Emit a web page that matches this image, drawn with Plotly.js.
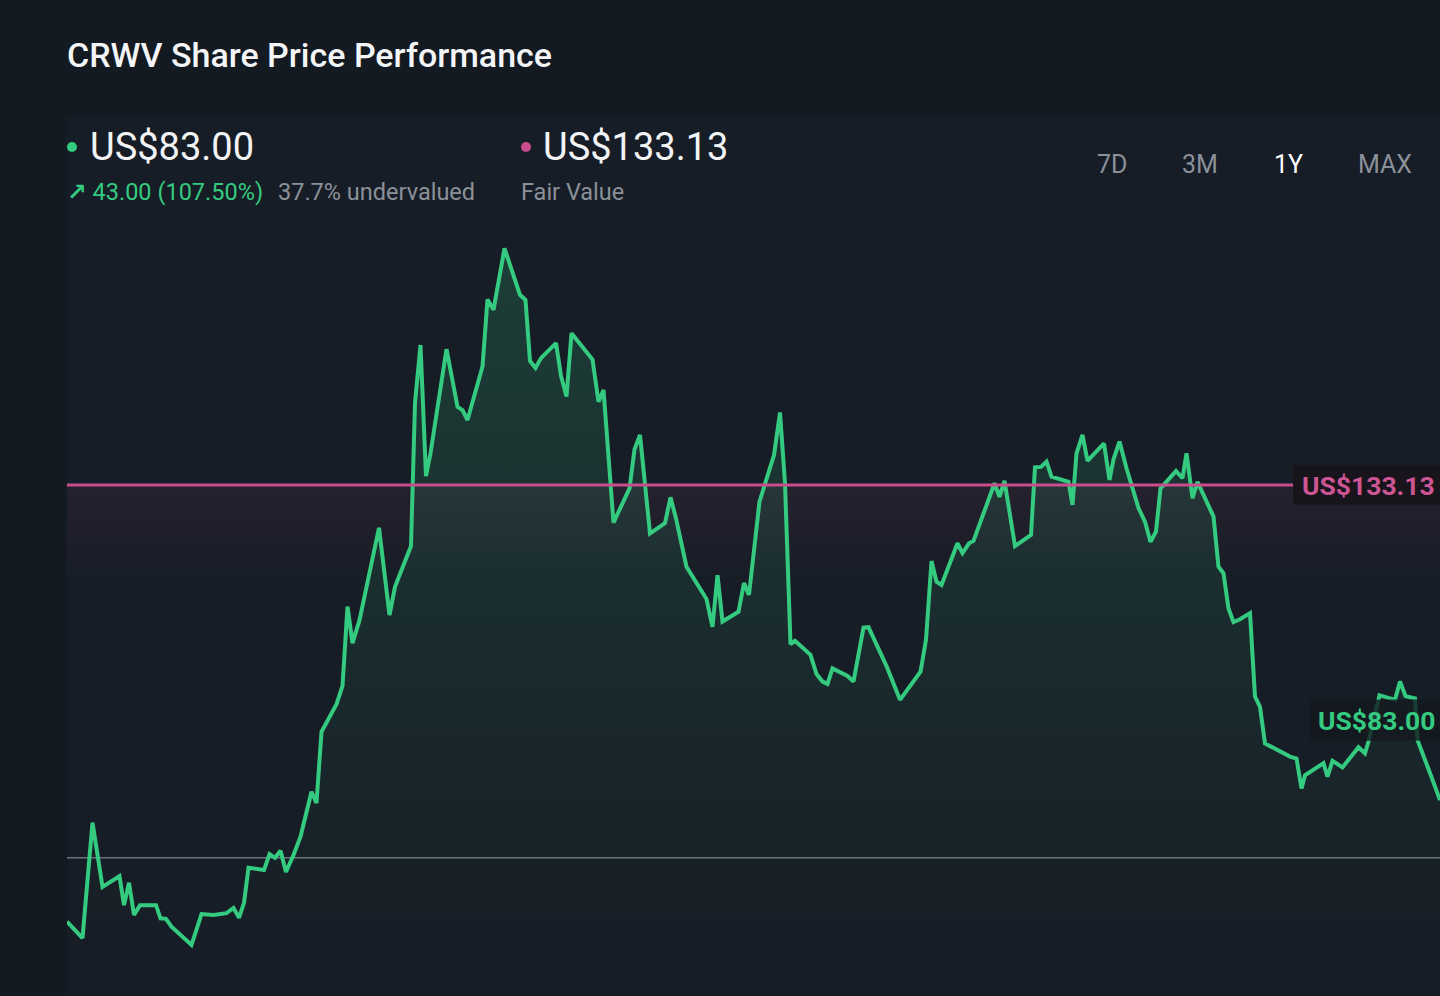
<!DOCTYPE html>
<html>
<head>
<meta charset="utf-8">
<script src="https://cdn.plot.ly/plotly-3.0.1.min.js"></script>
<style>
  html, body { margin: 0; padding: 0; background: #141a22; overflow: hidden; }
  #chart { width: 1440px; height: 996px; }
</style>
</head>
<body>
<div id="chart"></div>
<script>
// ---- data (trading-day index since listing, share price in US$) ----
const tradingDay = [0, 3.1, 5.1, 7.1, 10.5, 11.4, 12.4, 13.4, 14.6, 17.8, 18.7, 19.8, 20.9, 24.9, 26.9, 29.3, 31.9, 33.3, 34.4, 35.4,
  36.3, 39.4, 40.5, 41.6, 42.7, 43.8, 45.3, 46.7, 48.9, 49.9, 50.9, 53.9, 55.1, 56.1, 57.1, 58.5, 62.4, 64.5, 65.6, 68.8,
  69.6, 70.7, 71.8, 72.7, 75.9, 78.1, 79.1, 80.1, 83.1, 84.1, 85.3, 87.5, 90.6, 91.7, 92.6, 93.7, 94.8, 97.8, 98.8, 99.9,
  100.9, 105.1, 106.3, 107.3, 109.3, 112.5, 113.5, 114.6, 116.6, 119.6, 120.7, 121.8, 123.9, 127.9, 129.1, 130.1, 131.1, 134.3, 135.4, 136.4,
  138.5, 141.4, 142.6, 143.6, 144.7, 145.6, 148.7, 149.9, 151.1, 152.1, 153.1, 156.1, 157.3, 159.3, 160.3, 163.9, 166.6, 170.7, 171.8, 172.9,
  173.9, 174.9, 178.1, 179.1, 180.4, 181.3, 185.5, 186.5, 187.5, 189.6, 192.8, 193.6, 194.8, 195.9, 196.9, 200.3, 201.1, 201.9, 203.1, 204.1,
  207.4, 208.5, 209.3, 210.5, 211.9, 214.3, 215.6, 216.7, 217.8, 218.7, 221.8, 223.1, 223.9, 225.1, 226.1, 229.3, 230.3, 231.3, 232.3, 233.3,
  234.6, 236.6, 237.6, 238.6, 239.6, 244.6, 245.9, 246.9, 247.6, 251.3, 252.1, 253.1, 255.1, 258.3, 259.6, 260.3, 262.5, 265.6, 266.6, 267.7,
  269.6, 270.1, 272.6, 274.6];
const sharePrice = [40.0, 36.5, 61.1, 47.4, 49.7, 43.5, 48.3, 41.4, 43.5, 43.5, 40.7, 40.6, 38.9, 35.0, 41.6, 41.4, 41.8, 42.9, 40.8, 44.0,
  51.5, 51.0, 54.4, 53.6, 55.1, 50.6, 54.2, 58.1, 67.7, 65.3, 80.5, 86.4, 90.3, 107.2, 99.4, 104.3, 124.0, 105.4, 111.4, 120.1,
  150.6, 163.0, 135.0, 139.9, 162.1, 149.8, 149.1, 147.0, 158.4, 172.7, 170.5, 183.6, 173.7, 172.6, 159.6, 158.1, 160.2, 163.4, 156.4, 152.0,
  165.5, 159.9, 150.9, 153.4, 125.1, 132.4, 140.7, 143.8, 122.8, 125.0, 130.5, 126.0, 115.7, 108.8, 102.9, 113.9, 104.0, 106.1, 112.2, 109.7,
  129.6, 139.5, 148.6, 133.5, 99.2, 99.9, 96.9, 92.8, 91.2, 90.7, 94.0, 92.4, 91.2, 102.7, 102.8, 94.5, 87.3, 93.3, 100.1, 116.9,
  112.5, 111.8, 120.7, 118.6, 120.7, 121.2, 133.5, 130.6, 134.0, 120.1, 122.5, 136.9, 137.0, 138.1, 134.9, 133.8, 128.9, 139.9, 143.8, 138.3,
  142.0, 134.2, 138.6, 142.4, 136.7, 128.2, 125.3, 121.0, 123.2, 132.4, 136.1, 134.6, 139.9, 130.3, 133.8, 126.4, 115.7, 114.3, 106.8, 103.9,
  104.5, 105.8, 88.0, 85.8, 78.0, 75.2, 74.8, 68.4, 71.2, 73.8, 70.9, 74.3, 72.9, 77.2, 75.9, 78.4, 88.3, 87.3, 91.2, 88.1,
  87.6, 78.7, 71.7, 65.9];
const ticker = "CRWV";
const lastPrice = 83.00;
const fairValue = 133.13;
const priceChange = 43.00;
const priceChangePct = 107.50;
const undervaluedPct = 37.7;
const referenceLevel = 53.6;
const rangeLabels = ["7D", "3M", "1Y", "MAX"];
const activeRange = "1Y";

// ---- styling ----
const GREEN = "#34cb80";
const PINK = "#c94c8c";
const GREY_TXT = "#8b9199";
const W = 1440, H = 996;
const M = { l: 67, r: 0, t: 117, b: 0 };
const pw = W - M.l - M.r, ph = H - M.t - M.b;
const px = x => (x - M.l) / pw;          // page pixel -> paper x
const py = y => (H - M.b - y) / ph;      // page pixel -> paper y
const FONT = "Roboto, 'DejaVu Sans', sans-serif";
const xMax = tradingDay[tradingDay.length - 1];

const fmt = v => "US$" + v.toFixed(2);

const traces = [
  { // fair value tint band
    x: [0, xMax], y: [fairValue, fairValue], type: "scatter", mode: "lines",
    line: { width: 0 }, fill: "tozeroy", hoverinfo: "skip",
    fillgradient: { type: "vertical", start: fairValue - 20, stop: fairValue,
      colorscale: [[0, "rgba(201,76,140,0)"], [1, "rgba(201,76,140,0.08)"]] }
  },
  { // share price
    x: tradingDay, y: sharePrice, type: "scatter", mode: "lines",
    line: { color: GREEN, width: 4 }, fill: "tozeroy",
    fillgradient: { type: "vertical", start: 35, stop: 185,
      colorscale: [[0, "rgba(52,203,128,0)"], [1, "rgba(52,203,128,0.19)"]] }
  }
];

const annotations = [
  { text: fmt(lastPrice), x: px(88), y: py(147), xanchor: "left", yanchor: "middle",
    font: { family: FONT, size: 38, color: "#f2f3f5" } },
  { text: "<b>\u2197</b> " + priceChange.toFixed(2) + " (" + priceChangePct.toFixed(2) + "%)", x: px(65), y: py(192),
    xanchor: "left", yanchor: "middle", font: { family: FONT, size: 23.5, color: GREEN } },
  { text: undervaluedPct.toFixed(1) + "% undervalued", x: px(276), y: py(192), xanchor: "left", yanchor: "middle",
    font: { family: FONT, size: 23.5, color: GREY_TXT } },
  { text: fmt(fairValue), x: px(541), y: py(147), xanchor: "left", yanchor: "middle",
    font: { family: FONT, size: 38, color: "#f2f3f5" } },
  { text: "Fair Value", x: px(519), y: py(192), xanchor: "left", yanchor: "middle",
    font: { family: FONT, size: 23.5, color: GREY_TXT } },
  // right-hand value tags
  { text: "<b>" + fmt(fairValue) + "</b>", xref: "paper", yref: "y", x: px(1300), y: fairValue,
    xanchor: "left", yanchor: "middle",
    font: { family: FONT, size: 26.5, color: "#cc5593" } },
  { text: "<b>" + fmt(lastPrice) + "</b>", xref: "paper", yref: "y", x: px(1316), y: lastPrice,
    xanchor: "left", yanchor: "middle",
    font: { family: FONT, size: 26.5, color: GREEN } }
];
const rangeCenters = [1112, 1200, 1288, 1385];
rangeLabels.forEach((r, i) => annotations.push({
  text: r, x: px(rangeCenters[i]), y: py(164), xanchor: "center", yanchor: "middle",
  font: { family: FONT, size: 25, color: r === activeRange ? "#ffffff" : GREY_TXT }
}));
annotations.forEach(a => { if (!a.xref) a.xref = "paper"; if (!a.yref) a.yref = "paper"; a.showarrow = false; });

const dot = (cx, cy, r, c) => ({ type: "circle", xref: "paper", yref: "paper",
  x0: px(cx - r), x1: px(cx + r), y0: py(cy + r), y1: py(cy - r), fillcolor: c, line: { width: 0 } });
const tagBox = (x0, yc, half, c) => ({ type: "rect", xref: "paper", yref: "y", x0: px(x0), x1: 1.05,
  y0: yc - half, y1: yc + half, fillcolor: c, line: { width: 0 }, layer: "above" });

const shapes = [
  { type: "line", xref: "paper", yref: "y", x0: 0, x1: 1, y0: referenceLevel, y1: referenceLevel,
    line: { color: "#6d727b", width: 1.5 }, layer: "below" },
  { type: "line", xref: "paper", yref: "y", x0: 0, x1: px(1293), y0: fairValue, y1: fairValue,
    line: { color: PINK, width: 3 } },
  tagBox(1293, fairValue, 4.2, "rgba(24,20,27,0.92)"),
  tagBox(1310, lastPrice, 4.4, "rgba(20,25,31,0.8)"),
  dot(72, 147, 5, GREEN),
  dot(526, 147, 5, PINK)
];

const layout = {
  width: W, height: H, margin: M,
  paper_bgcolor: "#141a22", plot_bgcolor: "#171d26",
  showlegend: false,
  title: { text: ticker + " Share Price Performance", xref: "container", yref: "container",
    x: 67 / W, xanchor: "left", y: 1 - 55 / H, yanchor: "middle",
    font: { family: FONT, size: 34, weight: 500, color: "#f4f5f7" } },
  xaxis: { range: [0, xMax], visible: false, fixedrange: true },
  yaxis: { range: [24.13, 211.63], visible: false, fixedrange: true },
  annotations, shapes
};

Plotly.newPlot("chart", traces, layout, { displayModeBar: false, staticPlot: true });
</script>
</body>
</html>
